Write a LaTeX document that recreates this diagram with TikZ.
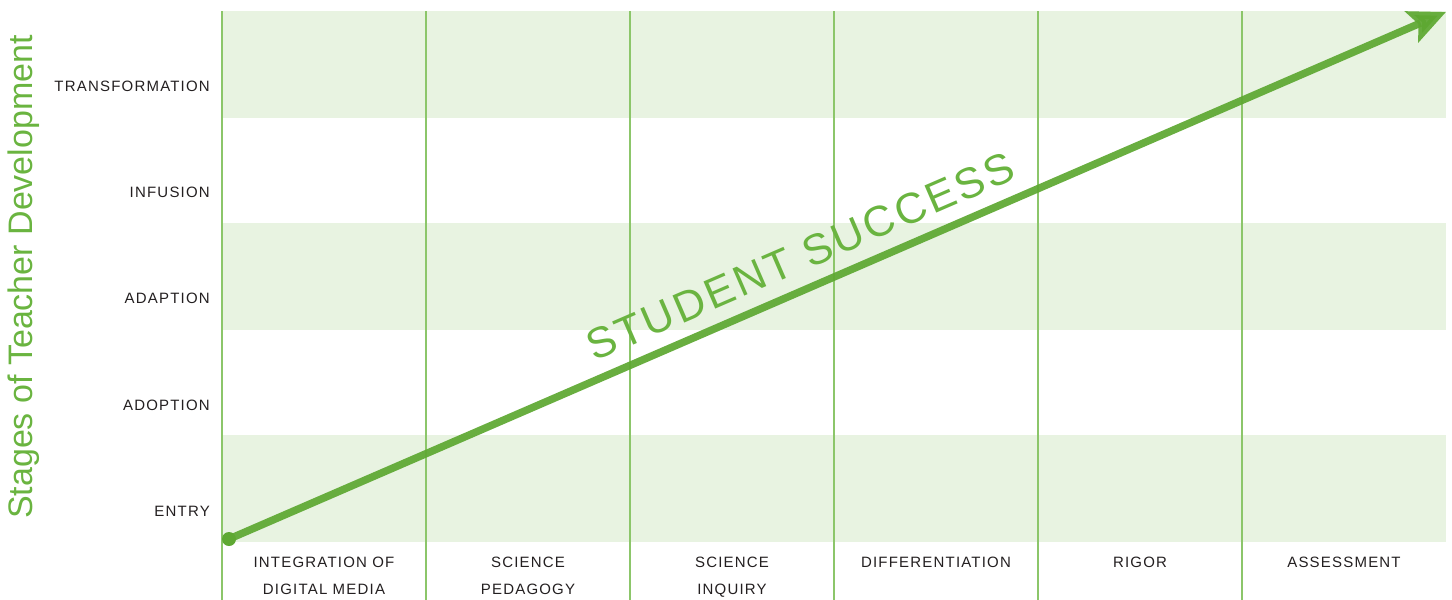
\documentclass[tikz,border=0pt]{standalone}
\usepackage{fontspec}
\setmainfont{Liberation Sans}
\newfontfamily\labfont[LetterSpace=8]{Liberation Sans}
\newfontfamily\bigfont[LetterSpace=7]{Liberation Sans}
\usetikzlibrary{arrows.meta}
\definecolor{bandfill}{HTML}{E8F3E1}
\definecolor{gridline}{HTML}{8CC66A}
\definecolor{arrowgreen}{HTML}{5EA832}
\definecolor{textgreen}{HTML}{6AB440}
\definecolor{labeltext}{HTML}{231F20}
\tikzset{
  band/.style={fill=bandfill, draw=none},
  colline/.style={draw=gridline, line width=1.6pt},
  rowlabel/.style={anchor=base east, inner sep=0pt, text=labeltext, font=\labfont\fontsize{15}{18}\selectfont},
  collabel/.style={anchor=north, inner sep=0pt, align=center, text=labeltext, font=\labfont\fontsize{15}{27}\selectfont},
  growth/.style={draw=arrowgreen, line width=7.5pt, opacity=0.93, -{Stealth[length=37pt, width=33pt, inset=7pt]}},
  startdot/.style={circle, fill=arrowgreen, minimum size=14pt, inner sep=0pt},
}
\begin{document}
\begin{tikzpicture}[x=1pt, y=-1pt]
\useasboundingbox (0,0) rectangle (1452,600);
% bands
\fill[band] (222,11) rectangle (1446,118);
\fill[band] (222,223) rectangle (1446,330);
\fill[band] (222,435) rectangle (1446,542);
% column lines
\foreach \i/\x in {1/222,2/426,3/630,4/834,5/1038,6/1242}{
  \coordinate (ct\i) at (\x,11);
  \coordinate (cb\i) at (\x,600);
  \draw[colline] (ct\i) -- (cb\i);
}
% row labels
\node[rowlabel] (r5) at (210,91) {TRANSFORMATION};
\node[rowlabel] (r4) at (210,197) {INFUSION};
\node[rowlabel] (r3) at (210,303) {ADAPTION};
\node[rowlabel] (r2) at (210,410) {ADOPTION};
\node[rowlabel] (r1) at (210,516) {ENTRY};
% column labels
\node[collabel] (c1) at (324,557) {INTEGRATION OF\\DIGITAL MEDIA};
\node[collabel] (c2) at (528,557) {SCIENCE\\PEDAGOGY};
\node[collabel] (c3) at (732,557) {SCIENCE\\INQUIRY};
\node[collabel] (c4) at (936,557) {DIFFERENTIATION};
\node[collabel] (c5) at (1140,557) {RIGOR};
\node[collabel] (c6) at (1344,557) {ASSESSMENT};
% axis title
\node[rotate=90, text=textgreen, font=\fontsize{34}{36}\selectfont, inner sep=0pt] (title) at (24,277) {Stages of Teacher Development};
% arrow
\node[startdot] (start) at (229,539) {};
\coordinate (tip) at (1446,12);
\draw[growth] (start.center) -- (tip);
% label
\node[rotate=23.4, text=textgreen, font=\bigfont\fontsize{43}{48}\selectfont, inner sep=0pt, anchor=base] (success) at (806,270) {STUDENT SUCCESS};
\end{tikzpicture}
\end{document}
